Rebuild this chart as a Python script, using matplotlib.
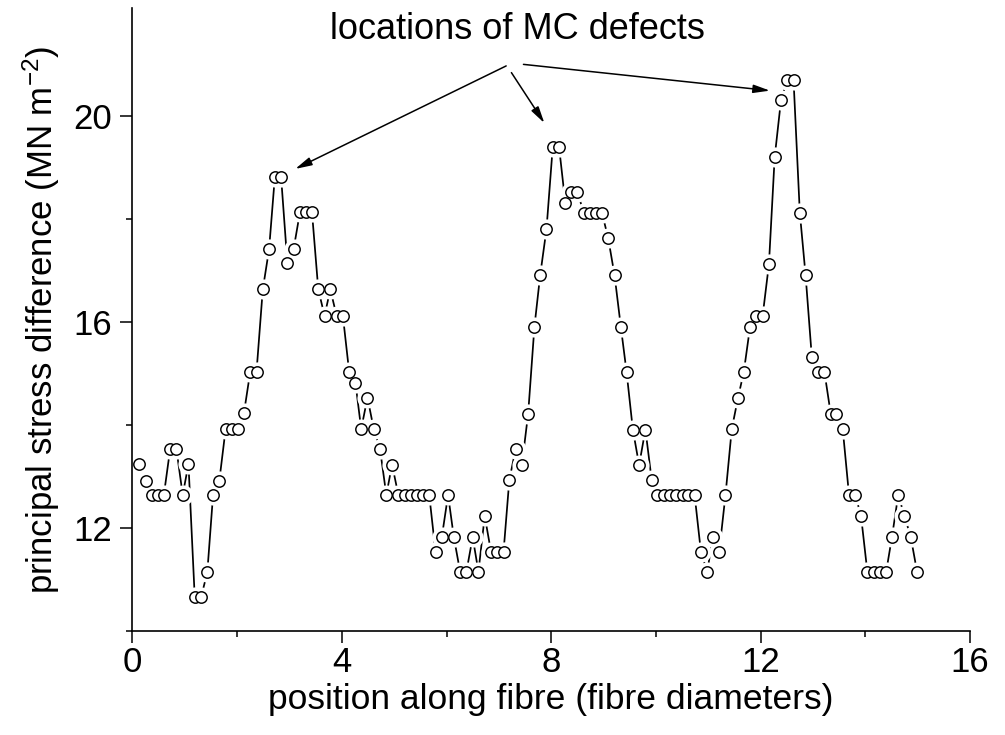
import matplotlib
matplotlib.use('Agg')
import matplotlib.pyplot as plt

plt.rcParams['font.family'] = ['Liberation Sans', 'DejaVu Sans']
plt.rcParams['mathtext.fontset'] = 'custom'
plt.rcParams['mathtext.rm'] = 'Liberation Sans'
plt.rcParams['mathtext.it'] = 'Liberation Sans:italic'

# position along fibre (fibre diameters)
position = [0.13, 0.25, 0.37, 0.48, 0.60, 0.72, 0.84, 0.96, 1.07, 1.19,
            1.31, 1.43, 1.54, 1.66, 1.78, 1.90, 2.02, 2.13, 2.25, 2.37,
            2.49, 2.61, 2.72, 2.84, 2.96, 3.08, 3.20, 3.31, 3.43, 3.55,
            3.67, 3.78, 3.90, 4.02, 4.14, 4.26, 4.37, 4.49, 4.61, 4.73,
            4.85, 4.96, 5.08, 5.20, 5.32, 5.44, 5.55, 5.67, 5.79, 5.91,
            6.03, 6.14, 6.26, 6.38, 6.50, 6.61, 6.73, 6.85, 6.97, 7.09,
            7.20, 7.32, 7.44, 7.56, 7.68, 7.79, 7.91, 8.03, 8.15, 8.27,
            8.38, 8.50, 8.62, 8.74, 8.85, 8.97, 9.09, 9.21, 9.33, 9.44,
            9.56, 9.68, 9.80, 9.92, 10.03, 10.15, 10.27, 10.39, 10.51, 10.62,
            10.74, 10.86, 10.98, 11.09, 11.21, 11.33, 11.45, 11.57, 11.68, 11.80,
            11.92, 12.04, 12.16, 12.27, 12.39, 12.51, 12.63, 12.75, 12.86, 12.98,
            13.10, 13.22, 13.34, 13.45, 13.57, 13.69, 13.81, 13.92, 14.04, 14.16,
            14.28, 14.40, 14.51, 14.63, 14.75, 14.87, 14.99]

# principal stress difference (MN m^-2)
stress = [13.25, 12.93, 12.65, 12.65, 12.65, 13.54, 13.54, 12.65, 13.25, 10.66,
          10.66, 11.15, 12.65, 12.93, 13.93, 13.93, 13.93, 14.24, 15.04, 15.04,
          16.64, 17.42, 18.82, 18.82, 17.15, 17.43, 18.14, 18.14, 18.14, 16.64,
          16.13, 16.64, 16.13, 16.13, 15.04, 14.83, 13.93, 14.54, 13.93, 13.54,
          12.65, 13.24, 12.65, 12.65, 12.65, 12.65, 12.65, 12.65, 11.55, 11.83,
          12.65, 11.83, 11.16, 11.16, 11.83, 11.16, 12.24, 11.55, 11.55, 11.55,
          12.94, 13.54, 13.23, 14.23, 15.92, 16.92, 17.81, 19.41, 19.41, 18.32,
          18.54, 18.54, 18.13, 18.13, 18.13, 18.13, 17.63, 16.92, 15.92, 15.04,
          13.92, 13.23, 13.92, 12.94, 12.65, 12.65, 12.65, 12.65, 12.65, 12.65,
          12.65, 11.55, 11.16, 11.83, 11.55, 12.65, 13.93, 14.54, 15.04, 15.92,
          16.13, 16.13, 17.13, 19.21, 20.31, 20.71, 20.71, 18.13, 16.92, 15.32,
          15.04, 15.04, 14.23, 14.23, 13.93, 12.65, 12.65, 12.24, 11.16, 11.16,
          11.16, 11.16, 11.83, 12.65, 12.24, 11.83, 11.16]

x_ticks = [0, 4, 8, 12, 16]
x_minor = [2, 6, 10, 14]
y_ticks = [12, 16, 20]
y_minor = [10, 14, 18]

note = 'locations of MC defects'
# arrows from the note down to the three peaks (tail, head) in data units
arrow_tails = [(7.14, 20.98), (7.24, 20.85), (7.47, 21.01)]
arrow_heads = [(3.11, 18.98), (7.87, 19.87), (12.18, 20.50)]

fig = plt.figure(figsize=(10.05, 7.35), dpi=100)
ax = fig.add_axes([0.1318, 0.1409, 0.8333, 0.8479])

ax.plot(position, stress, '-', color='black', lw=1.25, zorder=1)
# white halo so the line stops short of each circle
ax.plot(position, stress, ls='none', marker='o', ms=14.5, mfc='white', mec='none', zorder=2)
ax.plot(position, stress, ls='none', marker='o', ms=8.2, mfc='white', mec='black', mew=1.05, zorder=3)

ax.set_xlim(0, 16)
ax.set_ylim(10, 22.1)
ax.set_xticks(x_ticks)
ax.set_xticks(x_minor, minor=True)
ax.set_yticks(y_ticks)
ax.set_yticks(y_minor, minor=True)

for s in ['top', 'right']:
    ax.spines[s].set_visible(False)
for s in ['left', 'bottom']:
    ax.spines[s].set_linewidth(1.2)

ax.tick_params(which='major', direction='out', length=8.4, width=1.1, labelsize=25)
ax.tick_params(which='minor', direction='out', length=4.5, width=1.1)
ax.tick_params(axis='x', which='major', pad=2)
ax.tick_params(axis='y', which='major', pad=6)

ax.set_xlabel('position along fibre (fibre diameters)', fontsize=25.5)
ax.xaxis.set_label_coords(0.5, -0.0828)
ax.set_ylabel(r'principal stress difference (MN m$^{-2}$)', fontsize=25)
ax.yaxis.set_label_coords(-0.0837, 0.5)

ax.text(7.36, 21.5, note, ha='center', va='baseline', fontsize=26, clip_on=False)
for tail, head in zip(arrow_tails, arrow_heads):
    ax.annotate('', xy=head, xytext=tail,
                arrowprops=dict(arrowstyle='-|>,head_length=1.0,head_width=0.25',
                                mutation_scale=10, color='black', lw=1.1,
                                shrinkA=0, shrinkB=0),
                annotation_clip=False)

fig.savefig('out.png', dpi=100)
